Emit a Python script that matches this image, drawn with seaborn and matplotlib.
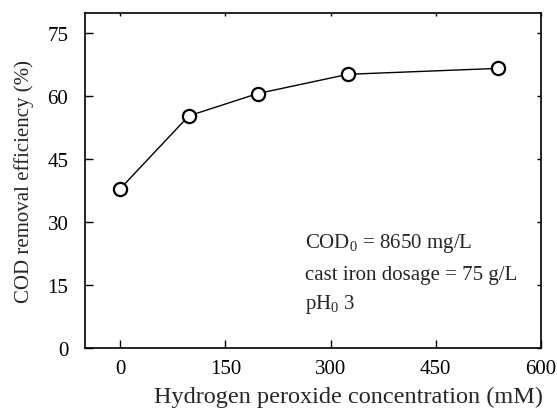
import matplotlib
matplotlib.use("Agg")
import matplotlib.pyplot as plt
import seaborn as sns
import pandas as pd

h2o2_mM = [0, 98, 196, 325, 538]
cod_removal = [37.9, 55.3, 60.6, 65.2, 66.6]
x_ticks = [0, 150, 300, 450, 600]
y_ticks = [0, 15, 30, 45, 60, 75]

sns.set_theme(style="white")
plt.rcParams['font.family'] = ['Liberation Serif', 'DejaVu Serif']
plt.rcParams['mathtext.fontset'] = 'custom'
plt.rcParams['mathtext.rm'] = 'Liberation Serif'

df = pd.DataFrame({"x": h2o2_mM, "y": cod_removal})

fig = plt.figure(figsize=(5.57, 4.10), dpi=100)
ax = fig.add_axes([85/557, 61/410, 456/557, 335/410])
sns.lineplot(data=df, x="x", y="y", ax=ax, color="black", linewidth=1.0,
             marker="o", markersize=9.5, markerfacecolor="white",
             markeredgecolor="black", markeredgewidth=1.6)

ax.set_xlim(-50, 600)
ax.set_ylim(0, 79.8)
ax.set_xticks(x_ticks)
ax.set_yticks(y_ticks)
ax.tick_params(axis="both", direction="in", length=6, width=1.0,
               labelsize=15, colors="black")
ax.tick_params(axis="y", pad=12)
ax.tick_params(axis="x", pad=8)
ax.yaxis.set_ticks_position("both")
ax.xaxis.set_ticks_position("both")
for t in ax.yaxis.get_major_ticks():
    t.tick2line.set_markersize(3)
for t in ax.xaxis.get_major_ticks():
    t.tick2line.set_markersize(2)
for s in ax.spines.values():
    s.set_color("black")
    s.set_linewidth(1.2)

ax.set_xlabel("Hydrogen peroxide concentration (mM)", fontsize=17.5, va="center")
ax.xaxis.set_label_coords((349 - 85) / 456, (349 - 397) / 335)
ax.set_ylabel("COD removal efficiency (%)", fontsize=15, va="center")
ax.yaxis.set_label_coords((24 - 85) / 456, 0.5)

ax.text(264, 24.0, r"COD$_{\mathregular{0}}$ = 8650 mg/L", fontsize=15, ha="left", va="baseline")
ax.text(264, 16.4, "cast iron dosage = 75 g/L", fontsize=15, ha="left", va="baseline")
ax.text(264, 9.5, r"pH$_{\mathregular{0}}$ 3", fontsize=15, ha="left", va="baseline")

fig.savefig("out.png", dpi=100)
